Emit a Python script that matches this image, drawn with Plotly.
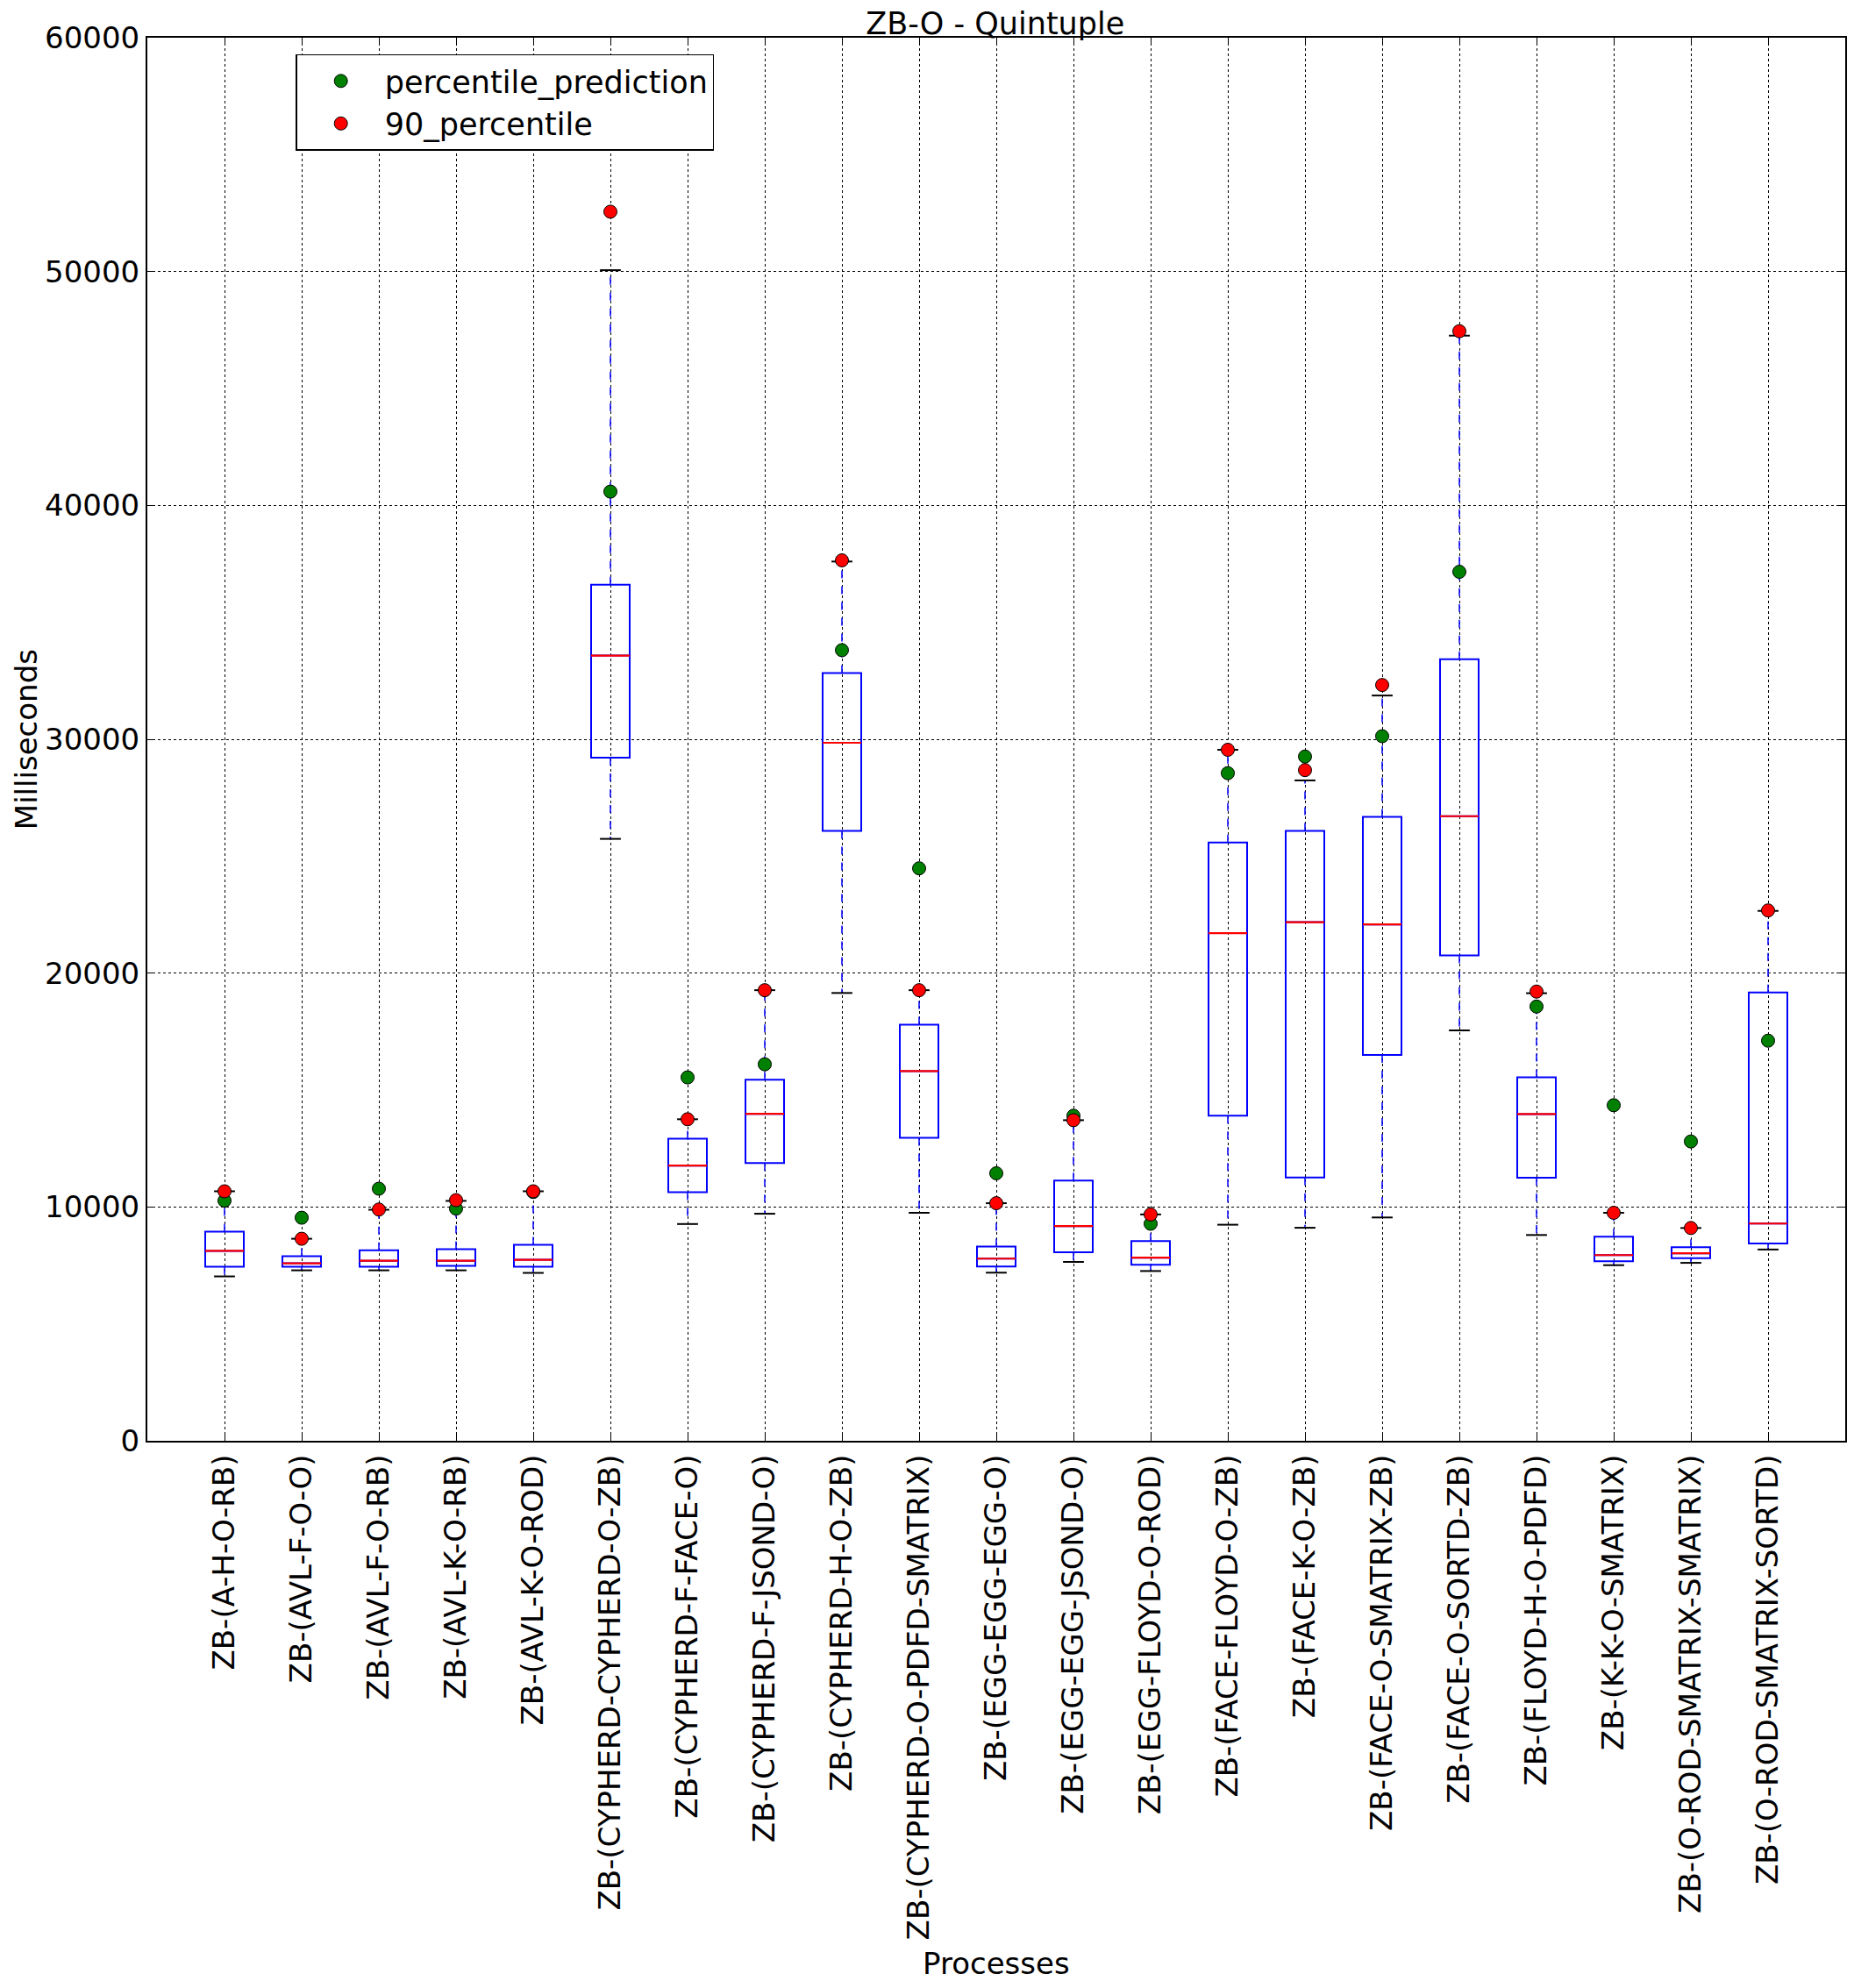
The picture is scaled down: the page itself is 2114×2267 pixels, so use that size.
import plotly.graph_objects as go

categories = [
    "ZB-(A-H-O-RB)", "ZB-(AVL-F-O-O)", "ZB-(AVL-F-O-RB)", "ZB-(AVL-K-O-RB)",
    "ZB-(AVL-K-O-ROD)", "ZB-(CYPHERD-CYPHERD-O-ZB)", "ZB-(CYPHERD-F-FACE-O)",
    "ZB-(CYPHERD-F-JSOND-O)", "ZB-(CYPHERD-H-O-ZB)", "ZB-(CYPHERD-O-PDFD-SMATRIX)",
    "ZB-(EGG-EGG-EGG-O)", "ZB-(EGG-EGG-JSOND-O)", "ZB-(EGG-FLOYD-O-ROD)",
    "ZB-(FACE-FLOYD-O-ZB)", "ZB-(FACE-K-O-ZB)", "ZB-(FACE-O-SMATRIX-ZB)",
    "ZB-(FACE-O-SORTD-ZB)", "ZB-(FLOYD-H-O-PDFD)", "ZB-(K-K-O-SMATRIX)",
    "ZB-(O-ROD-SMATRIX-SMATRIX)", "ZB-(O-ROD-SMATRIX-SORTD)",
]

whisker_low = [7030, 7290, 7290, 7290, 7180, 25740, 9270, 9710, 19150, 9750,
               7190, 7650, 7260, 9240, 9110, 9550, 17550, 8800, 7510, 7610, 8180]
q1 = [7440, 7440, 7440, 7480, 7440, 29210, 10630, 11880, 26080, 12960,
      7450, 8060, 7530, 13900, 11260, 16500, 20760, 11250, 7680, 7810, 8440]
median = [8120, 7590, 7700, 7700, 7740, 33580, 11770, 13980, 29850, 15810,
          7790, 9180, 7830, 21710, 22180, 22080, 26710, 13970, 7940, 8020, 9290]
q3 = [8940, 7890, 8150, 8190, 8380, 36610, 12920, 15440, 32830, 17790,
      8310, 11130, 8540, 25580, 26080, 26680, 33420, 15540, 8730, 8280, 19170]
whisker_high = [10670, 8640, 9880, 10260, 10670, 50060, 13750, 19270, 37600, 19270,
                10160, 13710, 9680, 29550, 28240, 31870, 47260, 19140, 9750, 9100, 22660]

percentile_prediction = [10270, 9540, 10780, 9930, 10640, 40590, 15540, 16100, 33810, 24480,
                         11440, 13900, 9280, 28550, 29260, 30130, 37160, 18570, 14350, 12800, 17110]
percentile_90 = [10670, 8640, 9890, 10290, 10670, 52560, 13750, 19270, 37650, 19270,
                 10160, 13710, 9680, 29550, 28680, 32320, 47450, 19210, 9750, 9100, 22680]

y_ticks = [0, 10000, 20000, 30000, 40000, 50000, 60000]

FONT = "DejaVu Sans"
FS = 34

fig = go.Figure()

# whiskers (dashed blue)
wx, wy = [], []
for c, lo, a, b, hi in zip(categories, whisker_low, q1, q3, whisker_high):
    wx += [c, c, None, c, c, None]
    wy += [b, hi, None, a, lo, None]
fig.add_trace(go.Scatter(x=wx, y=wy, mode="lines", showlegend=False, hoverinfo="skip",
                         line=dict(color="#0000ff", width=1.5, dash="dash")))

# caps (black)
fig.add_trace(go.Scatter(x=categories + categories, y=whisker_high + whisker_low, mode="markers",
                         showlegend=False, hoverinfo="skip",
                         marker=dict(symbol="line-ew", size=17,
                                     line=dict(color="black", width=2))))

# boxes (blue)
fig.add_trace(go.Box(x=categories, q1=q1, median=median, q3=q3,
                     lowerfence=q1, upperfence=q3, width=0.5, whiskerwidth=0,
                     fillcolor="rgba(0,0,0,0)", line=dict(color="#0000ff", width=2),
                     boxpoints=False, showlegend=False, hoverinfo="skip"))

# medians (red)
fig.add_trace(go.Box(x=categories, q1=median, median=median, q3=median,
                     lowerfence=median, upperfence=median, width=0.5, whiskerwidth=0,
                     fillcolor="rgba(0,0,0,0)", line=dict(color="#ff0000", width=2.2),
                     boxpoints=False, showlegend=False, hoverinfo="skip"))

fig.add_trace(go.Scatter(x=categories, y=percentile_prediction, mode="markers",
                         name="percentile_prediction",
                         marker=dict(color="#008000", size=15,
                                     line=dict(color="black", width=1))))
fig.add_trace(go.Scatter(x=categories, y=percentile_90, mode="markers",
                         name="90_percentile",
                         marker=dict(color="#ff0000", size=15,
                                     line=dict(color="black", width=1))))

fig.update_layout(
    width=2114, height=2267,
    margin=dict(l=160, r=18, t=35, b=632, autoexpand=False),
    paper_bgcolor="white", plot_bgcolor="white",
    font=dict(family=FONT, size=FS, color="black"),
    boxmode="overlay",
    title=dict(text="ZB-O - Quintuple", x=0.533, xanchor="center",
               y=1 - 19 / 2267, yanchor="middle", yref="container",
               font=dict(family=FONT, size=35, color="black")),
    legend=dict(x=0.0874, xanchor="left", y=0.9884, yanchor="top",
                bgcolor="white", bordercolor="black", borderwidth=1.5,
                font=dict(family=FONT, size=FS + 1, color="black"),
                itemwidth=90),
    showlegend=True,
)

fig.update_xaxes(
    type="category", range=[-1, len(categories)], automargin=False,
    tickangle=-90, tickfont=dict(family=FONT, size=FS),
    showgrid=True, gridcolor="black", griddash="dot", gridwidth=1,
    showline=True, linecolor="black", linewidth=2, mirror="ticks",
    ticks="inside", ticklen=8, tickcolor="black", zeroline=False,
)
fig.update_yaxes(
    range=[0, 60000], tickvals=y_ticks, ticktext=[str(v) for v in y_ticks],
    automargin=False, tickfont=dict(family=FONT, size=FS),
    showgrid=True, gridcolor="black", griddash="dot", gridwidth=1,
    showline=True, linecolor="black", linewidth=2, mirror="ticks",
    ticks="inside", ticklen=8, tickcolor="black", zeroline=False,
)

fig.add_annotation(text="Processes", xref="paper", yref="paper", x=0.5, y=-0.3723,
                   xanchor="center", yanchor="middle", showarrow=False,
                   font=dict(family=FONT, size=FS, color="black"))
fig.add_annotation(text="Milliseconds", xref="paper", yref="paper", x=-0.0712, y=0.5,
                   xanchor="center", yanchor="middle", textangle=-90, showarrow=False,
                   font=dict(family=FONT, size=FS, color="black"))

fig.write_html("out.html")
